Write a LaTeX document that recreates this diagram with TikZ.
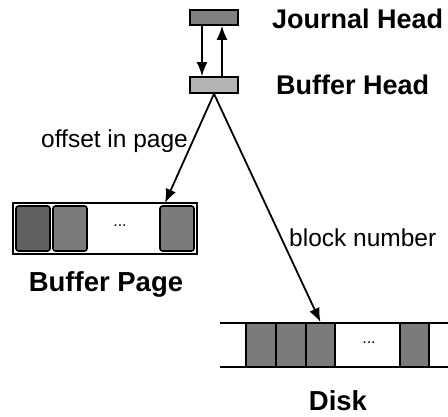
\documentclass[tikz,border=0pt]{standalone}
\usepackage{fontspec}
\setmainfont{Liberation Sans}
\usetikzlibrary{arrows.meta}
\definecolor{cellgray}{HTML}{7A7B7D}
\definecolor{celldark}{HTML}{606163}
\definecolor{headgray}{HTML}{808080}
\definecolor{bufgray}{HTML}{B4B4B4}
\begin{document}
\begin{tikzpicture}[x=1pt,y=-1pt,
  headbox/.style={draw=black,line width=1.6pt,inner sep=0pt,minimum width=48pt,minimum height=15pt},
  cellbox/.style={draw=black,line width=1.6pt,rounded corners=2.5pt,inner sep=0pt,minimum width=34pt,minimum height=45pt,fill=cellgray},
  diskcell/.style={draw=black,line width=1.8pt,inner sep=0pt,minimum width=29.5pt,minimum height=44pt,fill=cellgray},
  title/.style={font=\fontsize{27.5}{32}\selectfont\bfseries,inner sep=0pt},
  note/.style={font=\fontsize{24.5}{28}\selectfont,inner sep=0pt},
  link/.style={line width=1.8pt,-{Latex[length=14pt,width=11pt]}},
  dots/.style={font=\fontsize{16}{18}\selectfont,inner sep=0pt}]
\useasboundingbox (0,0) rectangle (448,416);

% journal head and buffer head
\node[headbox,fill=headgray] (jh) at (214,17.5) {};
\node[headbox,fill=bufgray,minimum height=16pt] (bh) at (214,85) {};
\node[title,anchor=west,font=\fontsize{27}{32}\selectfont\bfseries] (jhl) at (272,19) {Journal Head};
\node[title,anchor=west,font=\fontsize{27}{32}\selectfont\bfseries] (bhl) at (276,85) {Buffer Head};
\draw[link] ([xshift=-12pt]jh.south) -- ([xshift=-12pt]bh.north);
\draw[link] ([xshift=8pt]bh.north) -- ([xshift=8pt]jh.south);

% buffer page
\node[draw=black,line width=1.8pt,inner sep=0pt,minimum width=184pt,minimum height=51pt] (page) at (105,228.5) {};
\node[cellbox,fill=celldark] (p1) at (33,228.5) {};
\node[cellbox] (p2) at (70,228.5) {};
\node[cellbox] (p3) at (177,228.5) {};
\node[dots] (pdots) at (120,226) {...};
\node[title] (pagel) at (106,284) {Buffer Page};

% disk
\coordinate (dl) at (220,323);
\coordinate (dr) at (448,323);
\coordinate (dlb) at (220,367);
\coordinate (drb) at (448,367);
\draw[line width=1.8pt] (dl) -- (dr);
\draw[line width=1.8pt] (dlb) -- (drb);
\node[diskcell] (d1) at (261,345) {};
\node[diskcell] (d2) at (290.8,345) {};
\node[diskcell] (d3) at (320.5,345) {};
\node[diskcell] (d4) at (414.5,345) {};
\node[dots] (ddots) at (369,343) {...};
\node[title] (diskl) at (338,401) {Disk};

% pointers from the buffer head
\coordinate (ptip) at (165,203);
\draw[link] (bh.south) -- (ptip);
\draw[link] (bh.south) -- (d3.north);
\node[note,anchor=west] (offl) at (41,141) {offset in page};
\node[note,anchor=west] (blkl) at (289,238) {block number};
\end{tikzpicture}
\end{document}
